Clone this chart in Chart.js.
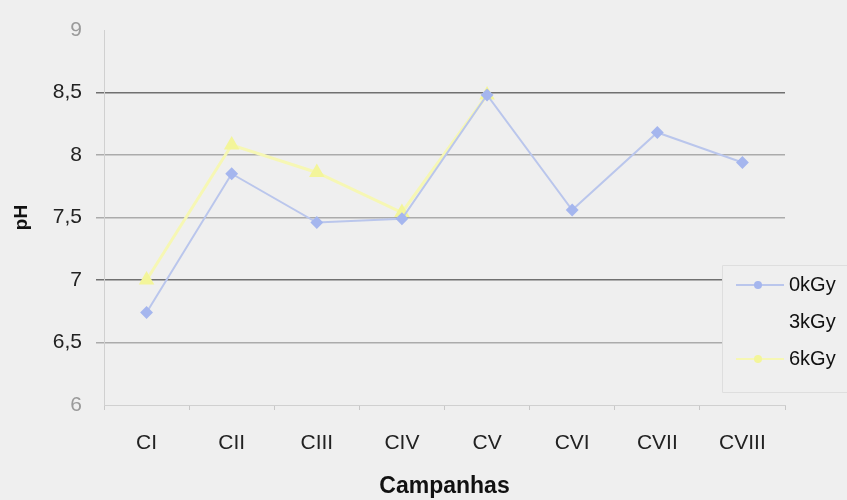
<!DOCTYPE html>
<html>
<head>
<meta charset="utf-8">
<script src="https://cdn.jsdelivr.net/npm/chart.js@4/dist/chart.umd.min.js"></script>
<style>
  html, body { margin: 0; padding: 0; background: #efefef; }
  #wrap { width: 847px; height: 500px; }
</style>
</head>
<body>
<div id="wrap"><canvas id="phChart" width="847" height="500"></canvas></div>
<script>
// pH por campanha para cada dose
const campanhas = ['CI', 'CII', 'CIII', 'CIV', 'CV', 'CVI', 'CVII', 'CVIII'];
const ph0kGy = [6.74, 7.85, 7.46, 7.49, 8.48, 7.56, 8.18, 7.94];
const ph3kGy = [null, null, null, null, null, null, null, null];
const ph6kGy = [7.0, 8.08, 7.86, 7.54, 8.48, null, null, null];
const yTicks = [6, 6.5, 7, 7.5, 8, 8.5, 9];

const FONT = 'Liberation Sans, Arial, sans-serif';

// Legend box drawn on top of the plot, right side
const sideLegend = {
  id: 'sideLegend',
  afterDraw(chart) {
    const ctx = chart.ctx;
    const x0 = 722, y0 = 265, y1 = 392;
    ctx.save();
    ctx.fillStyle = '#efefef';
    ctx.fillRect(x0, y0, 847 - x0, y1 - y0);
    ctx.strokeStyle = '#dedede';
    ctx.lineWidth = 1;
    ctx.beginPath();
    ctx.moveTo(847, y1 + 0.5);
    ctx.lineTo(x0 + 0.5, y1 + 0.5);
    ctx.lineTo(x0 + 0.5, y0 + 0.5);
    ctx.lineTo(847, y0 + 0.5);
    ctx.stroke();

    chart.data.datasets.forEach((ds, i) => {
      const y = 285 + i * 37;
      if (ds.showSample) {
        ctx.strokeStyle = ds.borderColor;
        ctx.lineWidth = 2;
        ctx.beginPath();
        ctx.moveTo(736, y);
        ctx.lineTo(784, y);
        ctx.stroke();
        ctx.fillStyle = ds.pointBackgroundColor;
        ctx.beginPath();
        ctx.arc(758, y, 4, 0, Math.PI * 2);
        ctx.fill();
      }
      ctx.fillStyle = '#111';
      ctx.font = '20px ' + FONT;
      ctx.textBaseline = 'middle';
      ctx.textAlign = 'left';
      ctx.fillText(ds.label, 789, y);
    });
    ctx.restore();
  }
};

new Chart(document.getElementById('phChart'), {
  type: 'line',
  data: {
    labels: campanhas,
    datasets: [
      {
        label: '0kGy',
        data: ph0kGy,
        borderColor: '#bac6ec',
        pointBackgroundColor: '#a5b6ee',
        pointBorderColor: '#a5b6ee',
        pointStyle: 'rectRot',
        pointRadius: 5,
        borderWidth: 2,
        tension: 0,
        showSample: true
      },
      {
        label: '3kGy',
        data: ph3kGy,
        borderColor: '#f4f4f4',
        pointBackgroundColor: '#f4f4f4',
        pointRadius: 0,
        borderWidth: 2,
        showSample: false
      },
      {
        label: '6kGy',
        data: ph6kGy,
        borderColor: '#f6f7b4',
        pointBackgroundColor: '#f3f59a',
        pointBorderColor: '#f3f59a',
        pointStyle: 'triangle',
        pointRadius: 6,
        borderWidth: 3,
        tension: 0,
        showSample: true
      }
    ]
  },
  plugins: [sideLegend],
  options: {
    responsive: false,
    animation: false,
    layout: { padding: { left: 0, right: 62, top: 30, bottom: 0 } },
    plugins: {
      legend: { display: false },
      tooltip: { enabled: false }
    },
    scales: {
      x: {
        offset: true,
        grid: {
          offset: true,
          drawOnChartArea: false,
          color: '#c8c8c8',
          tickLength: 5
        },
        border: { color: '#d0d0d0' },
        ticks: {
          color: '#222',
          font: { family: FONT, size: 21 },
          padding: 21
        },
        title: {
          display: true,
          text: 'Campanhas',
          color: '#111',
          font: { family: FONT, size: 23, weight: 'bold' },
          padding: { top: 10, bottom: 0 }
        },
        afterFit: s => { s.height = 95; }
      },
      y: {
        min: 6,
        max: 9,
        afterBuildTicks: s => { s.ticks = yTicks.map(v => ({ value: v })); },
        grid: {
          color: c => {
            const v = c.tick && c.tick.value;
            if (v === 8.5 || v === 7) return '#707070';
            if (v === 9 || v === 6) return 'rgba(0,0,0,0)';
            return '#ababab';
          },
          lineWidth: 1.5,
          tickLength: 8
        },
        border: { color: '#d0d0d0' },
        ticks: {
          color: c => (c.tick.value === 9 || c.tick.value === 6) ? '#9a9a9a' : '#222',
          font: { family: FONT, size: 21 },
          padding: 14,
          callback: v => String(v).replace('.', ',')
        },
        title: {
          display: true,
          text: 'pH',
          color: '#111',
          font: { family: FONT, size: 19, weight: 'bold' },
          padding: { top: 10, bottom: 0 }
        },
        afterFit: s => { s.width = 104; }
      }
    }
  }
});
</script>
</body>
</html>
